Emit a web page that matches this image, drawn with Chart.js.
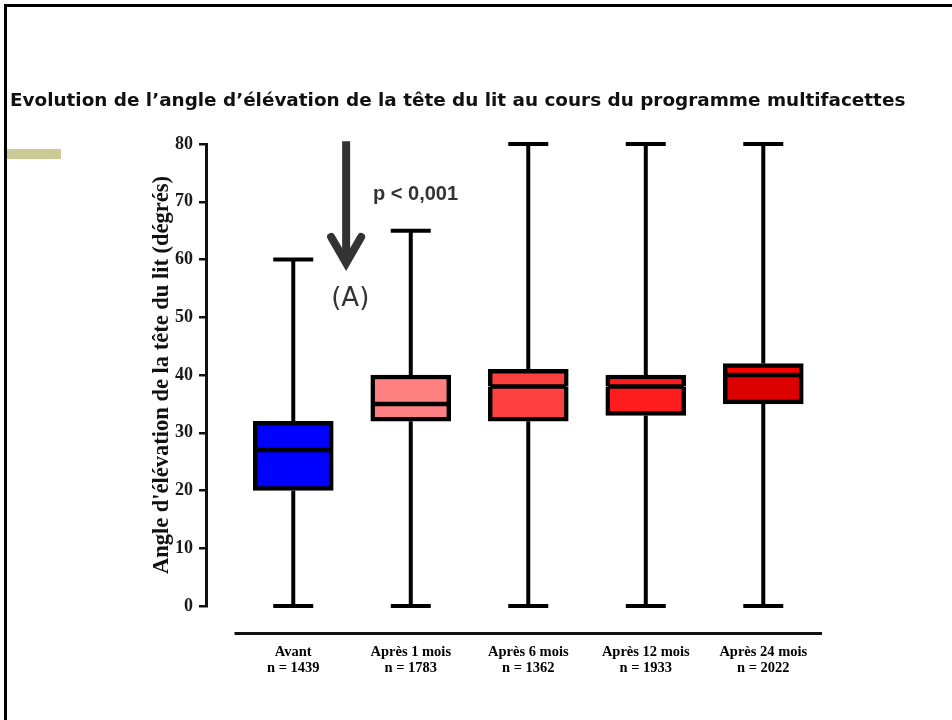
<!DOCTYPE html>
<html><head><meta charset="utf-8">
<script src="https://cdn.jsdelivr.net/npm/chart.js@4.4.1/dist/chart.umd.min.js"></script>
<style>html,body{margin:0;padding:0;background:#fff;} #wrap{width:952px;height:720px;position:relative;}</style>
</head><body><div id="wrap"><canvas id="c" width="952" height="720"></canvas></div>
<script>
// ---- data ----
const categories = ['Avant', 'Après 1 mois', 'Après 6 mois', 'Après 12 mois', 'Après 24 mois'];
const sampleSizes = ['n = 1439', 'n = 1783', 'n = 1362', 'n = 1933', 'n = 2022'];
const whiskerMin = [0, 0, 0, 0, 0];
const q1Values = [20, 32, 32, 33, 35];
const medianValues = [27, 35, 38, 38, 40];
const q3Values = [32, 40, 41, 40, 42];
const whiskerMax = [60, 65, 80, 80, 80];
const yTickValues = [0, 10, 20, 30, 40, 50, 60, 70, 80];
const chartTitle = "Evolution de l’angle d’élévation de la tête du lit au cours du programme multifacettes";
const yAxisTitle = "Angle d'élévation de la tête du lit (dégrés)";
const annotationLabel = '(A)';
const pValueLabel = 'p < 0,001';

// ---- styles / positions (kept apart from data) ----
const lowerColors = ['#0000ff', '#ff8080', '#ff4040', '#ff1c1c', '#dc0000'];
const upperColors = ['#0000ff', '#ff8080', '#ff4040', '#ff1c1c', '#ff0000'];
const arrowPos = {x: 0.45, yFrom: 80.5, yTo: 58.7};
const labelAPos = {x: 0.485, y: 53.1};
const pLabelPos = {x: 0.679, y: 71.2};

const lowerData = categories.map((c, i) => ({x: i, y: [q1Values[i], medianValues[i]]}));
const upperData = categories.map((c, i) => ({x: i, y: [medianValues[i], q3Values[i]]}));

const decor = {
  id: 'decor',
  beforeDraw(chart) {
    const ctx = chart.ctx;
    ctx.save();
    ctx.fillStyle = '#fff';
    ctx.fillRect(0, 0, chart.width, chart.height);
    // frame
    ctx.strokeStyle = '#000';
    ctx.lineWidth = 3;
    ctx.beginPath();
    ctx.moveTo(5.5, chart.height);
    ctx.lineTo(5.5, 5.5);
    ctx.lineTo(chart.width, 5.5);
    ctx.stroke();
    // olive bar
    ctx.fillStyle = '#cbcb96';
    ctx.fillRect(7, 149, 54, 10);
    ctx.restore();
  },
  beforeDatasetsDraw(chart) {
    const ctx = chart.ctx;
    const xs = chart.scales.x, ys = chart.scales.y;
    ctx.save();
    ctx.strokeStyle = '#000';
    ctx.lineWidth = 4;
    ctx.lineCap = 'butt';
    categories.forEach((c, i) => {
      const px = xs.getPixelForValue(i);
      ctx.beginPath();
      ctx.moveTo(px, ys.getPixelForValue(whiskerMin[i]));
      ctx.lineTo(px, ys.getPixelForValue(q1Values[i]));
      ctx.moveTo(px, ys.getPixelForValue(q3Values[i]));
      ctx.lineTo(px, ys.getPixelForValue(whiskerMax[i]));
      ctx.stroke();
      [whiskerMin[i], whiskerMax[i]].forEach(v => {
        const py = ys.getPixelForValue(v);
        ctx.beginPath();
        ctx.moveTo(px - 20, py);
        ctx.lineTo(px + 20, py);
        ctx.stroke();
      });
    });
    // x axis line (offset below the plot)
    ctx.strokeStyle = '#111';
    ctx.lineWidth = 3;
    const ly = ys.getPixelForValue(0) + 27.5;
    ctx.beginPath();
    ctx.moveTo(xs.getPixelForValue(-0.5), ly);
    ctx.lineTo(xs.getPixelForValue(categories.length - 0.5), ly);
    ctx.stroke();
    ctx.restore();
  },
  afterDatasetsDraw(chart) {
    const ctx = chart.ctx;
    const xs = chart.scales.x, ys = chart.scales.y;
    const meta = chart.getDatasetMeta(0);
    ctx.save();
    ctx.strokeStyle = '#000';
    ctx.lineWidth = 4.5;
    ctx.lineCap = 'butt';
    categories.forEach((c, i) => {
      const bar = meta.data[i];
      const half = bar.width / 2;
      const px = xs.getPixelForValue(i);
      const py = ys.getPixelForValue(medianValues[i]);
      ctx.beginPath();
      ctx.moveTo(px - half + 2, py);
      ctx.lineTo(px + half - 2, py);
      ctx.stroke();
    });
    ctx.restore();
  },
  afterDraw(chart) {
    const ctx = chart.ctx;
    const xs = chart.scales.x, ys = chart.scales.y;
    ctx.save();
    // arrow
    const ax = xs.getPixelForValue(arrowPos.x);
    const ay1 = ys.getPixelForValue(arrowPos.yFrom);
    const ay2 = ys.getPixelForValue(arrowPos.yTo);
    ctx.strokeStyle = '#333';
    ctx.lineWidth = 8;
    ctx.lineCap = 'butt';
    ctx.beginPath();
    ctx.moveTo(ax, ay1);
    ctx.lineTo(ax, ay2 - 6);
    ctx.stroke();
    ctx.lineCap = 'round';
    ctx.lineJoin = 'miter';
    ctx.beginPath();
    ctx.moveTo(ax - 15, ay2 - 30);
    ctx.lineTo(ax, ay2 - 4);
    ctx.lineTo(ax + 15, ay2 - 30);
    ctx.stroke();
    // texts
    ctx.fillStyle = '#333';
    ctx.textBaseline = 'middle';
    ctx.textAlign = 'center';
    ctx.font = '26px "DejaVu Sans"';
    ctx.fillText(annotationLabel, xs.getPixelForValue(labelAPos.x), ys.getPixelForValue(labelAPos.y));
    ctx.textAlign = 'left';
    ctx.font = 'bold 20px "Liberation Sans"';
    ctx.fillText(pValueLabel, xs.getPixelForValue(pLabelPos.x), ys.getPixelForValue(pLabelPos.y));
    ctx.restore();
  }
};

new Chart(document.getElementById('c'), {
  type: 'bar',
  data: {
    datasets: [
      {data: lowerData, backgroundColor: lowerColors, borderColor: '#000',
       borderWidth: {top: 0, right: 4.5, bottom: 4.5, left: 4.5}, borderSkipped: false,
       barThickness: 80, grouped: false},
      {data: upperData, backgroundColor: upperColors, borderColor: '#000',
       borderWidth: {top: 4.5, right: 4.5, bottom: 0, left: 4.5}, borderSkipped: false,
       barThickness: 80, grouped: false}
    ]
  },
  options: {
    responsive: false,
    animation: false,
    layout: {padding: {left: 10, right: 0, top: 0, bottom: 0}},
    plugins: {
      legend: {display: false},
      tooltip: {enabled: false},
      title: {display: true, text: chartTitle, align: 'start', color: '#111',
              font: {family: 'DejaVu Sans', weight: 'bold', size: 18.4, lineHeight: 1.2},
              padding: {top: 90, bottom: 32}}
    },
    scales: {
      x: {
        type: 'linear', min: -0.7426, max: 5.606, offset: false,
        grid: {display: false}, border: {display: false},
        ticks: {stepSize: 1, includeBounds: false, autoSkip: false, maxRotation: 0, padding: 30,
                color: '#000', font: {family: 'Liberation Serif', weight: 'bold', size: 14.5, lineHeight: 1.1},
                callback: v => (Number.isInteger(v) && v >= 0 && v < categories.length) ? [categories[v], sampleSizes[v]] : ''},
        afterFit: s => { s.height = 114; }
      },
      y: {
        min: 0, max: 80,
        afterBuildTicks: s => { s.ticks = yTickValues.map(v => ({value: v})); },
        grid: {drawOnChartArea: false, drawTicks: true, tickLength: 7, color: '#111', lineWidth: 2.5},
        border: {display: true, color: '#111', width: 3},
        ticks: {padding: 6, color: '#1a1a1a', font: {family: 'Liberation Serif', weight: 'bold', size: 18}},
        title: {display: true, text: yAxisTitle, color: '#111', padding: {top: 139, bottom: 0},
                font: {family: 'Liberation Serif', weight: 'bold', size: 22.5, lineHeight: 1.2}},
        afterFit: s => { s.width = 196; }
      }
    }
  },
  plugins: [decor]
});
</script></body></html>
